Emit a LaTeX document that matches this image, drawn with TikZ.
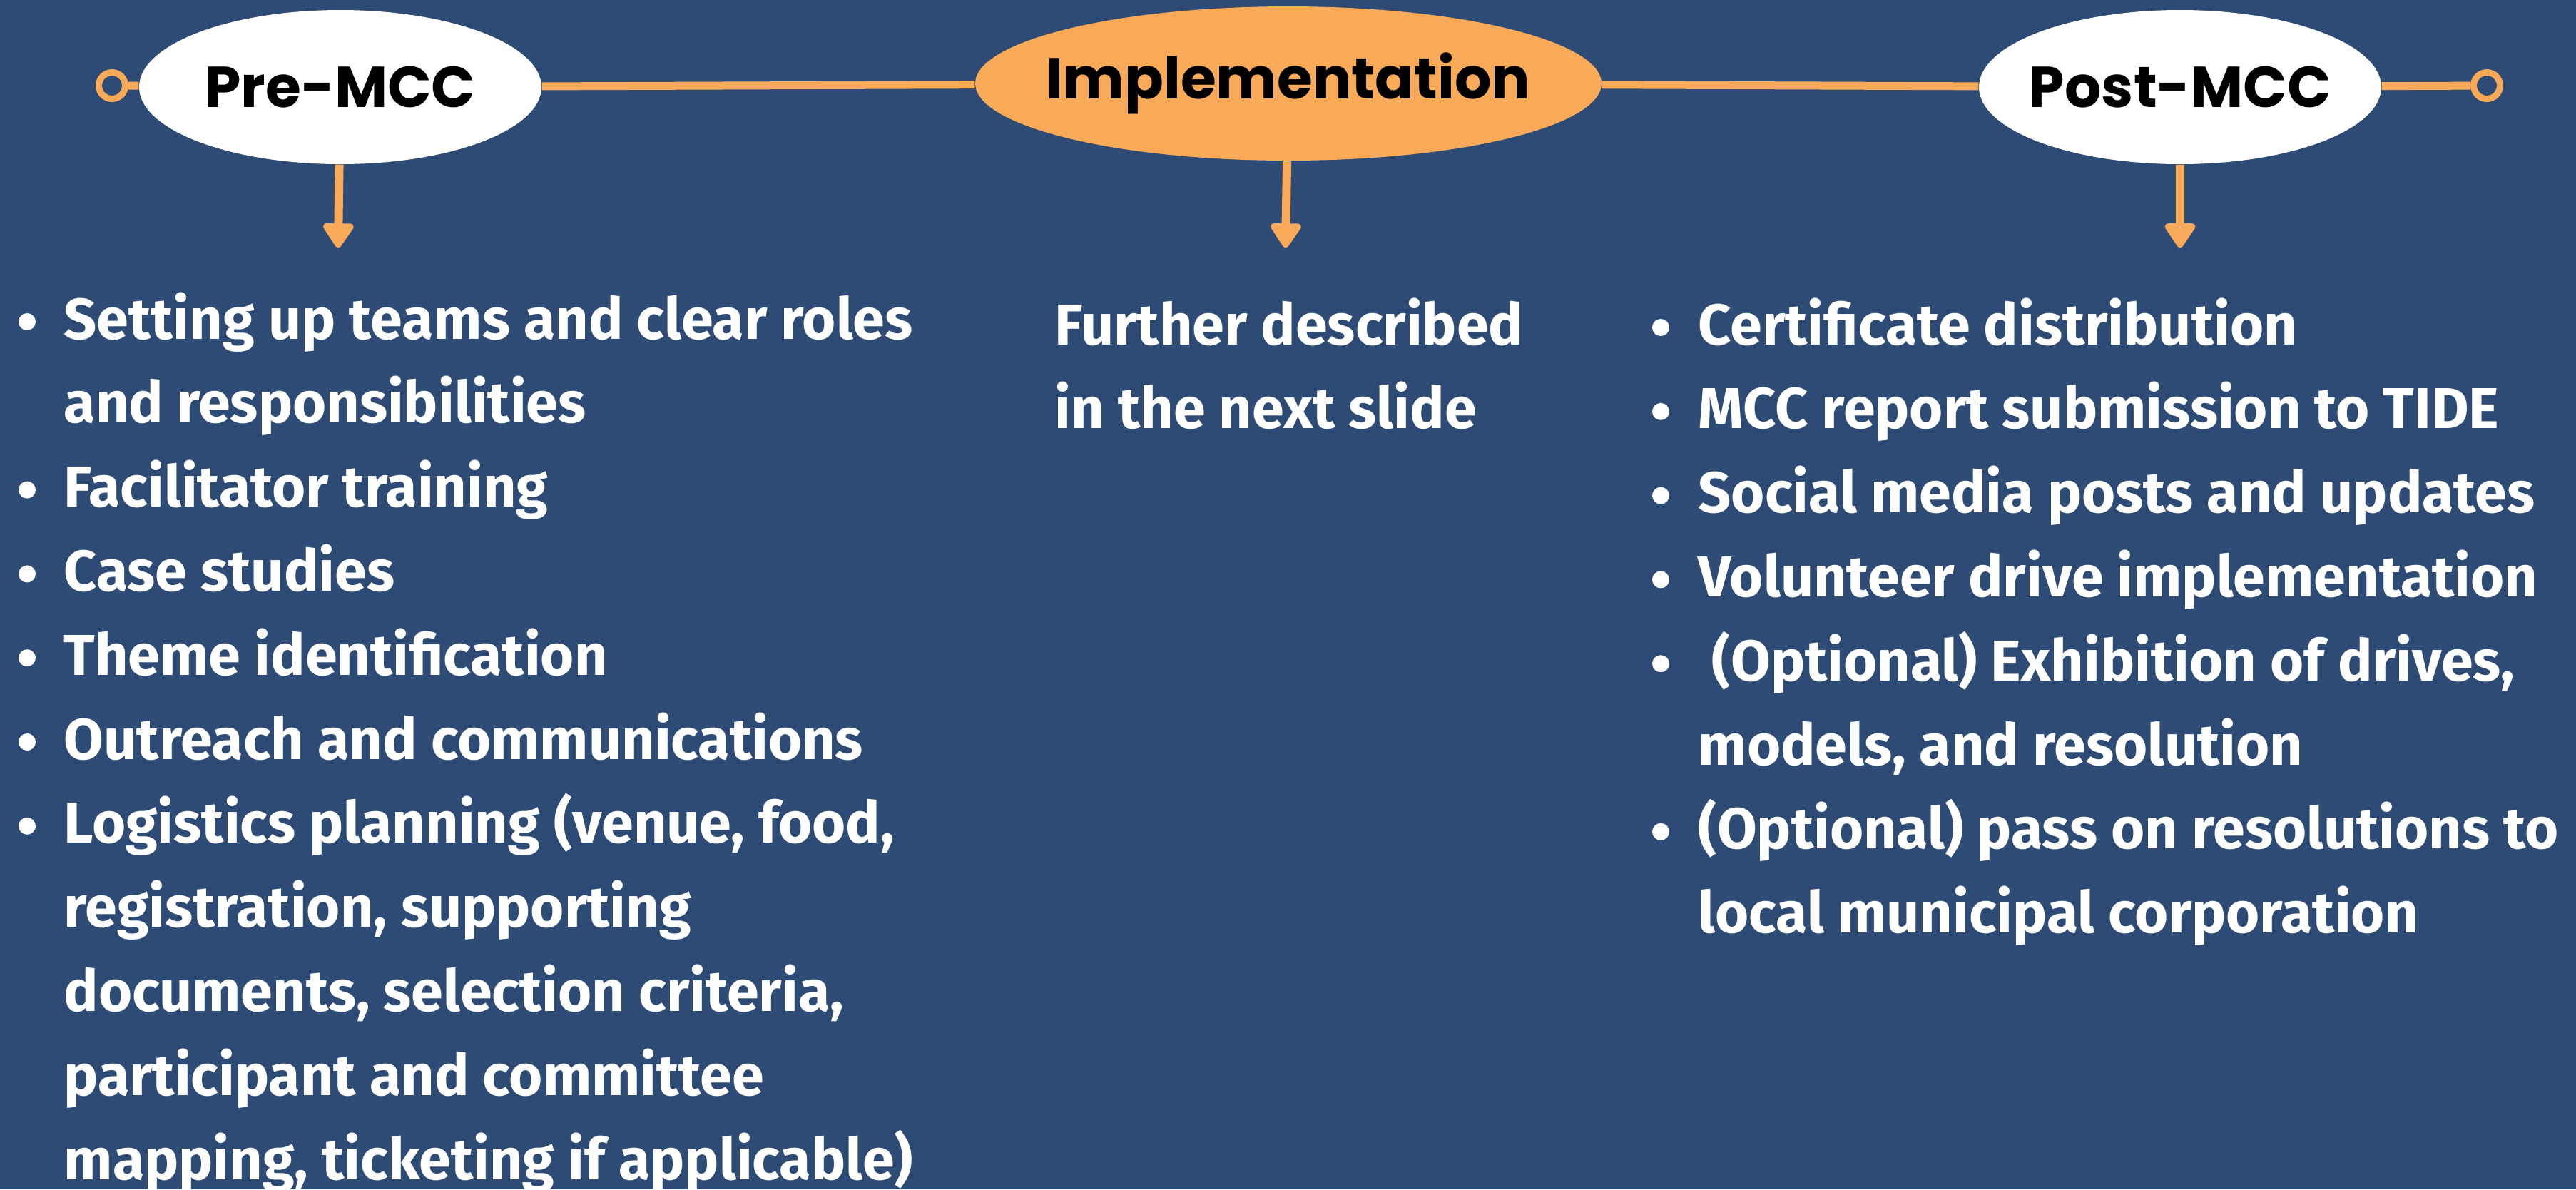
\documentclass[tikz,border=0pt]{standalone}
\usepackage{fontspec}
\setmainfont{Fira Sans}
\newfontfamily\headfont{Poppins}
\usepackage{tikz}
\usetikzlibrary{positioning}
\usetikzlibrary{arrows.meta,shapes.geometric}
\definecolor{bgblue}{RGB}{45,75,117}
\definecolor{mccorange}{RGB}{249,170,88}
\newcommand{\bodyfont}{\fontsize{23}{28}\selectfont\bfseries}
\newcommand{\phasefont}{\headfont\fontsize{23}{28}\selectfont\bfseries}
\tikzstyle{phase}=[ellipse,fill=white,minimum width=5.64cm,minimum height=2.16cm,inner sep=0pt,inner xsep=-0.8cm,font=\phasefont,text=black]
\tikzstyle{ring}=[circle,draw=mccorange,line width=0.09cm,minimum size=0.37cm,inner sep=0pt]
\tikzstyle{timeline} = [draw=mccorange,line width=0.11cm]
\tikzstyle{down} = [draw=mccorange,line width=0.12cm,-{Triangle[length=0.38cm,width=0.48cm,round]}]
\tikzstyle{item}=[anchor=base west,text=white,font=\bodyfont,inner sep=0pt]
\tikzstyle{dot}=[circle,fill=white,minimum size=0.24cm,inner sep=0pt]

\begin{document}
\begin{tikzpicture}[scale=1., auto,swap]

  \fill[bgblue] (0,0) rectangle (36.11,-16.67);
  \useasboundingbox (0,0) rectangle (36.11,-16.67);

  % timeline and the three phases
  \node[ring] (lend) at (1.57,-1.20) {};
  \node[ring] (rend) at (34.86,-1.20) {};

  \node[phase] (pre) at (4.77,-1.22) {Pre-MCC};
  \node[phase, fill=mccorange, minimum width=8.78cm] (impl) at (18.06,-1.17) {Implementation};
  \node[phase] (post) at (30.56,-1.22) {Post-MCC};

  \foreach \source/ \dest in {lend/pre, pre/impl, impl/post, post/rend}
         \path[timeline] (\source) -- (\dest);

  \foreach \x/\name in {4.74/pre, 18.02/impl, 30.56/post}
  {
         \coordinate (\name tip) at (\x,-3.47);
         \path[down] (\name) -- (\name tip);
  }

  % Pre-MCC items
  \foreach \k/\b/\label in {0/1/{Setting up teams and clear roles}, 1/0/{and responsibilities},
        2/1/{Facilitator training}, 3/1/{Case studies}, 4/1/{Theme identification},
        5/1/{Outreach and communications}, 6/1/{Logistics planning (venue, food,},
        7/0/{registration, supporting}, 8/0/{documents, selection criteria,},
        9/0/{participant and committee}, 10/0/{mapping, ticketing if applicable)}}
  {
          \node[item] (preitem\k) at (0.89, {-4.75-1.178*\k}) {\label};
          \ifnum\b=1 \node[dot] (predot\k) at (0.38, {-4.51-1.178*\k}) {}; \fi
  }

  % Implementation
  \foreach \k/\label in {0/{Further described}, 1/{in the next slide}}
          \node[item] (impltext\k) at (14.78, {-4.83-1.178*\k}) {\label};

  % Post-MCC items
  \foreach \k/\b/\label in {0/1/{Certificate distribution}, 1/1/{MCC report submission to TIDE},
        2/1/{Social media posts and updates}, 3/1/{Volunteer drive implementation},
        4/1/{\ (Optional) Exhibition of drives,}, 5/0/{models, and resolution},
        6/1/{(Optional) pass on resolutions to}, 7/0/{local municipal corporation}}
  {
          \node[item] (postitem\k) at (23.80, {-4.83-1.178*\k}) {\label};
          \ifnum\b=1 \node[dot] (postdot\k) at (23.28, {-4.59-1.178*\k}) {}; \fi
  }

\end{tikzpicture}
\end{document}
